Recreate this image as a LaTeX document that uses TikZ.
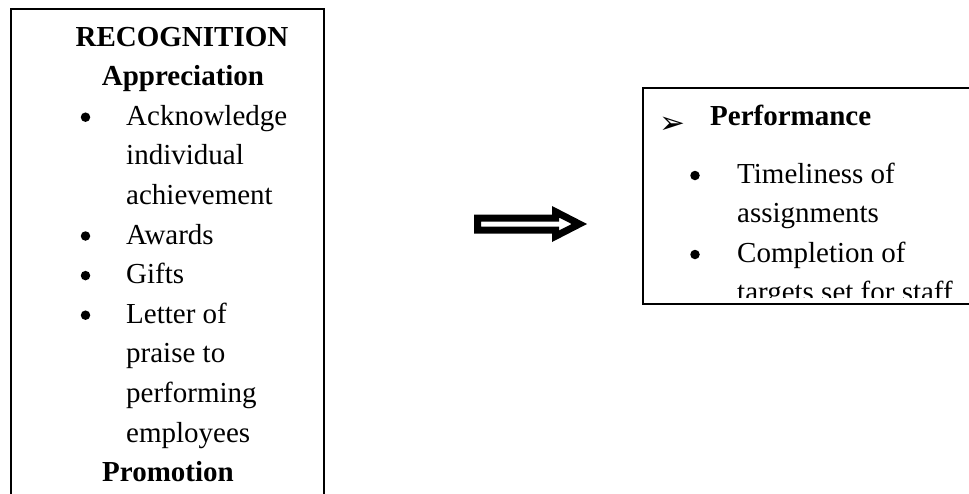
\documentclass[tikz,border=0pt]{standalone}
\usepackage{fontspec}
\setmainfont{Liberation Serif}
\newfontfamily\dingfont{DejaVu Sans}
\begin{document}
\begin{tikzpicture}[x=1pt,y=-1pt,
  txt/.style={inner sep=0pt, anchor=base west, font=\fontsize{29}{34}\selectfont},
  headtxt/.style={inner sep=0pt, anchor=base, font=\fontsize{29}{34}\selectfont\bfseries},
  dot/.style={circle, fill=black, inner sep=0pt, minimum size=9.5pt},
  frame/.style={draw=black, line width=2.2pt, inner sep=0pt, anchor=north west}]
\useasboundingbox (0,0) rectangle (969,493);
\clip (0,0) rectangle (969,493);

% frames (both run past the page edge)
\node[frame, minimum width=313pt, minimum height=560pt] (recogbox) at (10,8) {};
\node[frame, minimum width=400pt, minimum height=216pt] (perfbox) at (642,87) {};

% recognition list
\node[headtxt] (rec)   at (182,46)    {RECOGNITION};
\node[headtxt] (appr)  at (183,85.6)  {Appreciation};
\node[txt]     (ack)   at (126,125.2) {Acknowledge};
\node[txt]     (ind)   at (126,164.8) {individual};
\node[txt]     (achv)  at (126,204.4) {achievement};
\node[txt]     (awd)   at (126,244)   {Awards};
\node[txt]     (gift)  at (126,283.6) {Gifts};
\node[txt]     (lett)  at (126,323.2) {Letter of};
\node[txt]     (prs)   at (126,362.8) {praise to};
\node[txt]     (perfm) at (126,402.4) {performing};
\node[txt]     (empl)  at (126,442)   {employees};
\node[headtxt] (promo) at (168,481.6) {Promotion};
\node[dot] (d1) at (85.5,117.2) {};
\node[dot] (d2) at (85.5,236)   {};
\node[dot] (d3) at (85.5,275.6) {};
\node[dot] (d4) at (85.5,315.2) {};

% block arrow
\fill[black, even odd rule]
  (474,214.5) -- (552,214.5) -- (552,206) -- (587,224) -- (552,242) -- (552,233.5) -- (474,233.5) -- cycle
  (481,221.5) -- (559,221.5) -- (559,217.5) -- (571.7,224) -- (559,230.5) -- (559,226.5) -- (481,226.5) -- cycle;

% performance list
\node[inner sep=0pt, anchor=base west, font=\dingfont\fontsize{31}{36}\selectfont] (arrowhd) at (659.5,133) {➢};
\node[headtxt, anchor=base west] (perf) at (710,125) {Performance};
\node[txt] (tml)  at (737,183)   {Timeliness of};
\node[txt] (asg)  at (737,222.5) {assignments};
\node[txt] (cmpl) at (737,262)   {Completion of};
\node[dot] (d5) at (695,175.5) {};
\node[dot] (d6) at (695,254.5) {};
\begin{scope}
  \clip (642,87) rectangle (969,297);
  \node[txt] (tgt) at (737,301.5) {targets set for staff};
\end{scope}
\end{tikzpicture}
\end{document}
